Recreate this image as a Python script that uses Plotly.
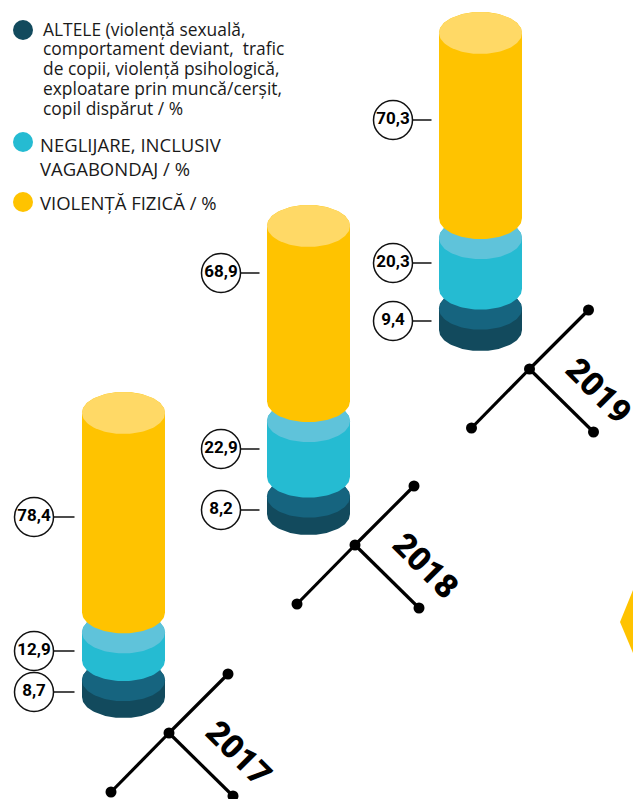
import numpy as np
import plotly.graph_objects as go

# ---- data ----
years = ["2017", "2018", "2019"]
altele = [8.7, 8.2, 9.4]
neglijare = [12.9, 22.9, 20.3]
violenta = [78.4, 68.9, 70.3]
series_names = ["ALTELE", "NEGLIJARE", "VIOLENȚĂ FIZICĂ"]

legend_lines_1 = ["ALTELE (violență sexuală,", "comportament deviant,  trafic",
                  "de copii, violență psihologică,", "exploatare prin muncă/cerșit,",
                  "copil dispărut / %"]
legend_lines_2 = ["NEGLIJARE, INCLUSIV", "VAGABONDAJ / %"]
legend_lines_3 = ["VIOLENȚĂ FIZICĂ / %"]

# ---- styling / layout ----
W, H = 633, 799
BODY = ["#124A5D", "#25BBD2", "#FFC300"]
TOP = ["#16647F", "#5FC3DA", "#FFD966"]
CX = [123.5, 308.5, 480.5]
BASE_PX = [697, 514, 330]
PX_PER_PCT = [2.62, 2.60, 2.69]
TRIM_PX = [6, 4, 4]
RX, RY, GAP_PX = 41.5, 21, 20
LABEL_X = [34, 221, 393]
LABEL_Y = [[692, 651, 517], [510, 449, 273], [321, 263, 120]]
T_CENTER = [(169, 733), (355, 545), (529.5, 369)]
YEAR_POS = [(239.5, 753), (426, 565), (599, 390)]
NUM_FONT = "Roboto"
TXT_FONT = "Open Sans"

fig = go.Figure()
theta = np.linspace(0, np.pi, 60)


def poly(x, y, color, yaxis="y"):
    fig.add_trace(go.Scatter(x=x, y=y, mode="lines", fill="toself", fillcolor=color,
                             line=dict(width=0, color=color), yaxis=yaxis,
                             hoverinfo="skip", showlegend=False))


for i, yr in enumerate(years):
    ax = f"y{i + 2}"
    k = PX_PER_PCT[i]
    cx = CX[i]
    ry = RY / k
    bottom = 0.0
    for s, vals in enumerate([altele, neglijare, violenta]):
        top = bottom + vals[i] - TRIM_PX[i] / k
        # body: upper arc at the segment top, lower arc at the segment bottom
        x = np.concatenate([cx - RX * np.cos(theta), cx + RX * np.cos(theta)])
        y = np.concatenate([top + ry * np.sin(theta), bottom - ry * np.sin(theta)])
        poly(x, y, BODY[s], ax)
        t2 = np.linspace(0, 2 * np.pi, 120)
        poly(cx + RX * np.cos(t2), top + ry * np.sin(t2), TOP[s], ax)
        bottom = top + GAP_PX / k

# value bubbles and leader lines
for i in range(3):
    left = CX[i] - 49
    for s, vals in enumerate([altele, neglijare, violenta]):
        ly = LABEL_Y[i][s]
        fig.add_trace(go.Scatter(x=[LABEL_X[i], left], y=[ly, ly], mode="lines",
                                 line=dict(color="#111111", width=1.3),
                                 hoverinfo="skip", showlegend=False))
        fig.add_trace(go.Scatter(x=[LABEL_X[i]], y=[ly], mode="markers+text",
                                 marker=dict(size=39, color="white",
                                             line=dict(color="#111111", width=1.5)),
                                 text=[f"{vals[i]:.1f}".replace(".", ",")],
                                 textposition="middle center",
                                 textfont=dict(family=NUM_FONT, size=17, color="#000000", weight="bold"),
                                 hoverinfo="skip", showlegend=False))

# T-shaped year markers
for i, yr in enumerate(years):
    c = T_CENTER[i]
    ends = [(c[0] + 59, c[1] - 59), (c[0] - 58, c[1] + 59), (c[0] + 64, c[1] + 63)]
    for e in ends:
        fig.add_trace(go.Scatter(x=[c[0], e[0]], y=[c[1], e[1]], mode="lines",
                                 line=dict(color="black", width=3.2),
                                 hoverinfo="skip", showlegend=False))
    fig.add_trace(go.Scatter(x=[c[0]] + [e[0] for e in ends], y=[c[1]] + [e[1] for e in ends],
                             mode="markers", marker=dict(size=11, color="black"),
                             hoverinfo="skip", showlegend=False))
    fig.add_annotation(x=YEAR_POS[i][0], y=YEAR_POS[i][1], text=yr, showarrow=False,
                       textangle=45, xanchor="center", yanchor="middle",
                       font=dict(family=NUM_FONT, size=33, color="black", weight=900))

# legend dots
fig.add_trace(go.Scatter(x=[23, 23, 23], y=[30, 142, 202], mode="markers",
                         marker=dict(size=20, color=[BODY[0], BODY[1], BODY[2]]),
                         hoverinfo="skip", showlegend=False))


def text_line(x, y, s, size):
    fig.add_annotation(x=x, y=y, text=s, showarrow=False, xanchor="left", yanchor="middle",
                       font=dict(family=TXT_FONT, size=size, color="#1a1a1a"))


for y, s in zip([29, 48, 68, 88, 108], legend_lines_1):
    text_line(41, y, s, 17.4)
for y, s in zip([144, 168], legend_lines_2):
    text_line(38, y, s, 18.5)
for y, s in zip([202], legend_lines_3):
    text_line(38, y, s, 18.5)

# yellow diamond cut by the right edge
poly([633, 620, 633, 633], [590, 622, 653, 590], "#FFC300")

layout_axes = {}
for i in range(3):
    k = PX_PER_PCT[i]
    rng = [-(H - BASE_PX[i]) / k, BASE_PX[i] / k]
    layout_axes[f"yaxis{i + 2}"] = dict(range=rng, overlaying="y", visible=False, fixedrange=True)

fig.update_layout(width=W, height=H, autosize=False, margin=dict(l=0, r=0, t=0, b=0, pad=0),
                  paper_bgcolor="white", plot_bgcolor="white", showlegend=False,
                  xaxis=dict(range=[0, W], visible=False, fixedrange=True),
                  yaxis=dict(range=[H, 0], visible=False, fixedrange=True),
                  **layout_axes)

fig.write_html("out.html", config=dict(displayModeBar=False),
               post_script="document.body.style.margin='0';")
